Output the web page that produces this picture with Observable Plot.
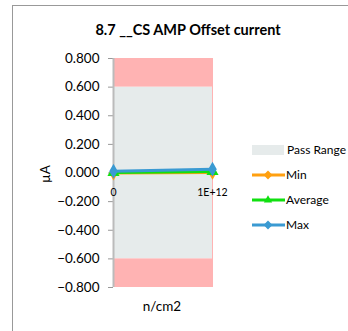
<!DOCTYPE html>
<html><head><meta charset="utf-8">
<script src="https://cdn.jsdelivr.net/npm/d3@7"></script>
<script src="https://cdn.jsdelivr.net/npm/@observablehq/plot@0.6"></script>
<style>
body{margin:0;background:#fff;font-family:Lato,"Open Sans",sans-serif;}
#wrap{position:relative;width:348px;height:331px;overflow:hidden;}
#frame{position:absolute;left:12px;top:5px;width:400px;height:400px;border-left:1px solid #999;border-top:1px solid #999;}
#title{position:absolute;left:12px;width:352px;top:21px;text-align:center;font-weight:bold;font-size:14.5px;color:#000;}
</style></head>
<body><div id="wrap"><div id="frame"></div><div id="title">8.7 __CS AMP Offset current</div><div id="chart"></div></div>
<script>
const xValues = [0, 1e12];
const xTickLabels = ["0", "1E+12"];
const minValues = [0.000, 0.004];
const avgValues = [0.004, 0.010];
const maxValues = [0.012, 0.027];
const yTicks = [-0.8, -0.6, -0.4, -0.2, 0, 0.2, 0.4, 0.6, 0.8];
const passLow = -0.6, passHigh = 0.6, limitLow = -0.8, limitHigh = 0.8;
const seriesNames = ["Min", "Average", "Max"];
const seriesColors = ["#ffa010", "#10e010", "#3a9ad2"];
const seriesSymbols = ["diamond", "triangle", "diamond"];

const seriesVals = [minValues, avgValues, maxValues];
const rows = [];
seriesNames.forEach((s, i) => xValues.forEach((x, j) => rows.push({series: s, x, y: seriesVals[i][j]})));
const bands = [
  {y1: passLow, y2: passHigh, fill: "#e6ebeb"},
  {y1: passHigh, y2: limitHigh, fill: "#ffb3b3"},
  {y1: limitLow, y2: passLow, fill: "#ffb3b3"}
];
const ticksData = xValues.map((x, i) => ({x, label: xTickLabels[i]}));

const marks = [
  Plot.rect(bands, {x1: xValues[0], x2: xValues[1], y1: "y1", y2: "y2", fill: "fill"}),
  Plot.ruleX([xValues[1]], {stroke: "#ffb3b3", strokeWidth: 1}),
  Plot.axisY({ticks: yTicks, tickFormat: d3.format(".3f"), tickSize: 5, tickPadding: 9, fontSize: 13.5, label: null, stroke: "#999"}),
  Plot.ruleX([xValues[0]], {stroke: "#bbb", strokeWidth: 2}),
  Plot.text(ticksData, {x: "x", y: 0, text: "label", dy: 20, fontSize: 10.5}),
];
seriesNames.forEach((s, i) => {
  const d = rows.filter(r => r.series === s);
  marks.push(Plot.line(d, {x: "x", y: "y", stroke: seriesColors[i], strokeWidth: 3}));
  marks.push(Plot.dot(d, {x: "x", y: "y", fill: seriesColors[i], symbol: seriesSymbols[i], r: 4.5}));
});

const chart = Plot.plot({
  width: 348, height: 331,
  marginLeft: 113, marginRight: 136, marginTop: 58, marginBottom: 44,
  style: {fontFamily: "Lato, 'Open Sans', sans-serif", background: "transparent", color: "#000"},
  x: {domain: [xValues[0], xValues[1]], axis: null},
  y: {domain: [limitLow, limitHigh]},
  marks
});
const svg = d3.select(chart);
svg.style("position", "absolute").style("left", "0px").style("top", "0px");
// axis titles
svg.append("text").attr("x", 162).attr("y", 311).attr("text-anchor", "middle").attr("font-size", 13.5).text("n/cm2");
svg.append("text").attr("transform", "translate(50,174) rotate(-90)").attr("text-anchor", "middle").attr("font-size", 13.5).text("µA");
// legend
const lg = svg.append("g").attr("font-size", 12).attr("text-anchor", "start");
lg.append("rect").attr("x", 252).attr("y", 145).attr("width", 32).attr("height", 10).attr("fill", "#e6ebeb");
lg.append("text").attr("x", 287).attr("y", 154).attr("text-anchor", "start").text("Pass Range");
const sym = {diamond: d3.symbolDiamond2, triangle: d3.symbolTriangle2};
seriesNames.forEach((s, i) => {
  const y = 175 + i * 25;
  lg.append("line").attr("x1", 252).attr("x2", 285).attr("y1", y).attr("y2", y).attr("stroke", seriesColors[i]).attr("stroke-width", 3);
  lg.append("path").attr("d", d3.symbol(sym[seriesSymbols[i]], 50)()).attr("transform", `translate(268,${y})`).attr("fill", seriesColors[i]);
  lg.append("text").attr("x", 286).attr("y", y + 4).attr("text-anchor", "start").text(s);
});
document.getElementById("chart").appendChild(chart);
</script></body></html>
